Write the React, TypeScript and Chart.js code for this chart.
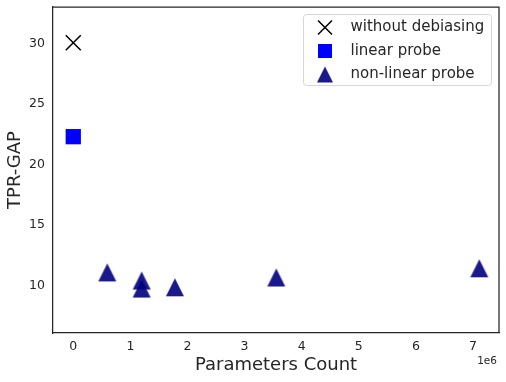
import React, { useEffect, useRef } from 'react';
import { Chart, registerables } from 'chart.js';

Chart.register(...registerables);

// ---- data (x in raw parameter counts) ----
const xTickValues = [0, 1e6, 2e6, 3e6, 4e6, 5e6, 6e6, 7e6];
const yTickValues = [10, 15, 20, 25, 30];

const baseX = [0];
const baseY = [30.05];

const linearX = [0];
const linearY = [22.3];

const nonLinearX = [595000, 1197000, 1197000, 1780000, 3555000, 7110000];
const nonLinearY = [11.1, 10.43, 9.77, 9.87, 10.68, 11.44];

const seriesLabels = ['without debiasing', 'linear probe', 'non-linear probe'];
const xAxisTitle = 'Parameters Count';
const yAxisTitle = 'TPR-GAP';
const offsetText = '1e6';

const FONT = "'DejaVu Sans', sans-serif";
const TEXT = '#262626';
const TRI_COLOR = 'rgba(0,0,128,0.9)';

function makeTriangle(size: number): HTMLCanvasElement {
  const c = document.createElement('canvas');
  c.width = size + 2;
  c.height = size + 2;
  const ctx = c.getContext('2d')!;
  ctx.fillStyle = TRI_COLOR;
  ctx.beginPath();
  ctx.moveTo(1 + size / 2, 1);
  ctx.lineTo(1, 1 + size);
  ctx.lineTo(1 + size, 1 + size);
  ctx.closePath();
  ctx.fill();
  return c;
}

export default function App() {
  const ref = useRef<HTMLCanvasElement | null>(null);

  useEffect(() => {
    document.body.style.margin = '0';
    const canvas = ref.current!;
    const tri = makeTriangle(18);
    const triLegend = makeTriangle(16);

    const framePlugin = {
      id: 'frame',
      beforeDatasetsDraw(chart: any) {
        const { ctx, chartArea } = chart;
        ctx.save();
        ctx.strokeStyle = TEXT;
        ctx.lineWidth = 1.25;
        ctx.beginPath();
        ctx.moveTo(chartArea.left, chartArea.top);
        ctx.lineTo(chartArea.right, chartArea.top);
        ctx.lineTo(chartArea.right, chartArea.bottom);
        ctx.stroke();
        ctx.restore();
      },
    };

    const legendPlugin = {
      id: 'mplLegend',
      afterDraw(chart: any) {
        const ctx = chart.ctx as CanvasRenderingContext2D;
        ctx.save();
        const bx = 303.5, by = 14.5, bw = 188, bh = 71;
        ctx.beginPath();
        (ctx as any).roundRect(bx, by, bw, bh, 3);
        ctx.fillStyle = 'rgba(255,255,255,0.8)';
        ctx.fill();
        ctx.strokeStyle = '#d6d6d6';
        ctx.lineWidth = 1;
        ctx.stroke();

        const mx = 325;
        const rows = [27.5, 51, 74.5];
        ctx.strokeStyle = '#000';
        ctx.lineWidth = 1.5;
        ctx.beginPath();
        ctx.moveTo(mx - 7, rows[0] - 7);
        ctx.lineTo(mx + 7, rows[0] + 7);
        ctx.moveTo(mx + 7, rows[0] - 7);
        ctx.lineTo(mx - 7, rows[0] + 7);
        ctx.stroke();
        ctx.fillStyle = '#0000ff';
        ctx.fillRect(mx - 7, rows[1] - 7, 14, 14);
        ctx.drawImage(triLegend, mx - triLegend.width / 2, rows[2] - triLegend.height / 2);

        ctx.fillStyle = TEXT;
        ctx.font = `15px ${FONT}`;
        ctx.textBaseline = 'middle';
        ctx.textAlign = 'left';
        seriesLabels.forEach((t, i) => ctx.fillText(t, 350.5, rows[i]));

        ctx.font = `10.5px ${FONT}`;
        ctx.textAlign = 'right';
        ctx.fillText(offsetText, 497, 361);
        ctx.restore();
      },
    };

    const chart = new Chart(canvas, {
      type: 'scatter',
      data: {
        datasets: [
          {
            label: seriesLabels[0],
            data: baseX.map((x, i) => ({ x, y: baseY[i] })),
            pointStyle: 'crossRot',
            pointRadius: 10.6,
            pointHoverRadius: 10.6,
            borderColor: '#000',
            backgroundColor: '#000',
            pointBorderWidth: 1.5,
          },
          {
            label: seriesLabels[1],
            data: linearX.map((x, i) => ({ x, y: linearY[i] })),
            pointStyle: 'rect',
            pointRadius: 10.8,
            pointHoverRadius: 10.8,
            borderColor: '#0000ff',
            backgroundColor: '#0000ff',
            pointBorderWidth: 0,
          },
          {
            label: seriesLabels[2],
            data: nonLinearX.map((x, i) => ({ x, y: nonLinearY[i] })),
            pointStyle: tri as any,
            pointRadius: 10,
            borderColor: TRI_COLOR,
            backgroundColor: TRI_COLOR,
          },
        ],
      },
      options: {
        animation: false,
        responsive: false,
        devicePixelRatio: 1,
        events: [],
        layout: { autoPadding: false, padding: { left: 0, top: 7, right: 7, bottom: 0 } },
        plugins: {
          legend: { display: false },
          tooltip: { enabled: false },
        },
        scales: {
          x: {
            type: 'linear',
            position: 'bottom',
            min: -355000,
            max: 7455000,
            afterBuildTicks: (s: any) => {
              s.ticks = xTickValues.map((v) => ({ value: v }));
            },
            afterFit: (s: any) => {
              s.height = 49;
              s.paddingLeft = 0;
              s.paddingRight = 0;
            },
            grid: { display: false, drawTicks: false },
            border: { display: true, color: TEXT, width: 1.25 },
            ticks: {
              padding: 6,
              maxRotation: 0,
              autoSkip: false,
              color: TEXT,
              font: { family: FONT, size: 12.5 },
              callback: (v: any) => String(Number(v) / 1e6),
            },
            title: {
              display: true,
              text: xAxisTitle,
              color: TEXT,
              font: { family: FONT, size: 18 },
              padding: { top: 0, bottom: 6 },
            },
          },
          y: {
            type: 'linear',
            position: 'left',
            min: 6.1,
            max: 33,
            afterBuildTicks: (s: any) => {
              s.ticks = yTickValues.map((v) => ({ value: v }));
            },
            afterFit: (s: any) => {
              s.width = 53;
              s.paddingTop = 0;
              s.paddingBottom = 0;
            },
            grid: { display: false, drawTicks: false },
            border: { display: true, color: TEXT, width: 1.25 },
            ticks: {
              padding: 8,
              color: TEXT,
              font: { family: FONT, size: 12.5 },
            },
            title: {
              display: true,
              text: yAxisTitle,
              color: TEXT,
              font: { family: FONT, size: 18 },
              padding: { top: 5, bottom: 0 },
            },
          },
        },
      },
      plugins: [framePlugin, legendPlugin],
    });

    return () => chart.destroy();
  }, []);

  return (
    <div style={{ position: 'absolute', left: 0, top: 0, width: 506, height: 382, background: '#fff' }}>
      <canvas ref={ref} width={506} height={382} style={{ display: 'block', width: 506, height: 382 }} />
    </div>
  );
}
